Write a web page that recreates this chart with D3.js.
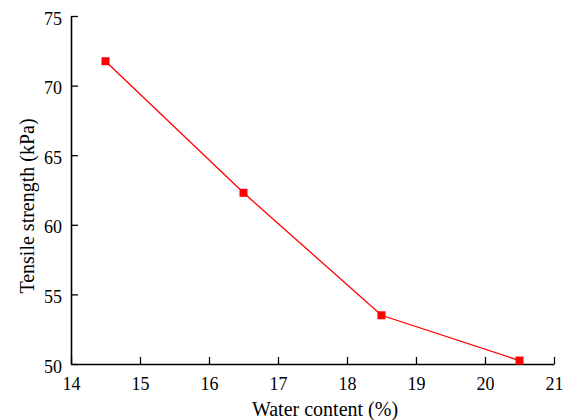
<!DOCTYPE html>
<meta charset="utf-8" />
<style>
    body { margin: 0; background: #fff; }
</style>
<body></body>
<script src="https://d3js.org/d3.v7.min.js"></script>
<script>

    // data
    var waterContent = [14.5, 16.5, 18.5, 20.5];
    var tensileStrength = [71.75, 62.3, 53.5, 50.25];
    var xTicks = [14, 15, 16, 17, 18, 19, 20, 21];
    var yTicks = [50, 55, 60, 65, 70, 75];

    var svgWidth = 573, svgHeight = 420;
    var margin = {top: 16, right: 19, bottom: 56, left: 71};
    var width = svgWidth - margin.left - margin.right;
    var height = svgHeight - margin.top - margin.bottom;
    var serif = "Liberation Serif";

    var svg = d3.select("body").append("svg")
        .attr("width", svgWidth)
        .attr("height", svgHeight);

    var g = svg.append("g")
        .attr("transform", "translate(" + margin.left + "," + margin.top + ")");

    var x = d3.scaleLinear().domain([14, 21]).range([0, width]);
    var y = d3.scaleLinear().domain([50, 75]).range([height, 0]);

    // axes, ticks pointing inward
    var gx = g.append("g")
        .attr("transform", "translate(0," + height + ")")
        .call(d3.axisBottom(x).tickValues(xTicks).tickFormat(d3.format("d"))
            .tickSizeInner(-7).tickSizeOuter(0));
    var gy = g.append("g")
        .call(d3.axisLeft(y).tickValues(yTicks).tickFormat(d3.format("d"))
            .tickSizeInner(-7).tickSizeOuter(0));

    [gx, gy].forEach(function (a) {
        a.attr("font-family", serif).attr("font-size", 18);
        a.select(".domain").attr("stroke", "#000").attr("stroke-width", 1.6);
        a.selectAll(".tick line").attr("stroke", "#000").attr("stroke-width", 1.3);
        a.selectAll(".tick text").attr("fill", "#000");
    });
    gx.selectAll(".tick text").attr("y", 26).attr("dy", 0);
    gy.selectAll(".tick text").attr("x", -9).attr("dy", 8);

    // axis titles
    svg.append("text")
        .attr("x", 325)
        .attr("y", 416)
        .attr("text-anchor", "middle")
        .attr("font-family", serif)
        .attr("font-size", 20)
        .text("Water content (%)");

    svg.append("text")
        .attr("transform", "translate(34,206) rotate(-90)")
        .attr("text-anchor", "middle")
        .attr("font-family", serif)
        .attr("font-size", 20)
        .text("Tensile strength (kPa)");

    var pts = waterContent.map(function (d, i) { return [d, tensileStrength[i]]; });

    var line = d3.line()
        .x(function (d) { return x(d[0]); })
        .y(function (d) { return y(d[1]); });

    g.append("path")
        .datum(pts)
        .attr("d", line)
        .attr("fill", "none")
        .attr("stroke", "#ff0000")
        .attr("stroke-width", 1.3);

    var ms = 8;
    g.selectAll("rect.marker")
        .data(pts)
        .enter().append("rect")
        .attr("class", "marker")
        .attr("x", function (d) { return x(d[0]) - ms / 2; })
        .attr("y", function (d) { return y(d[1]) - ms / 2; })
        .attr("width", ms)
        .attr("height", ms)
        .attr("fill", "#ff0000");

</script>
